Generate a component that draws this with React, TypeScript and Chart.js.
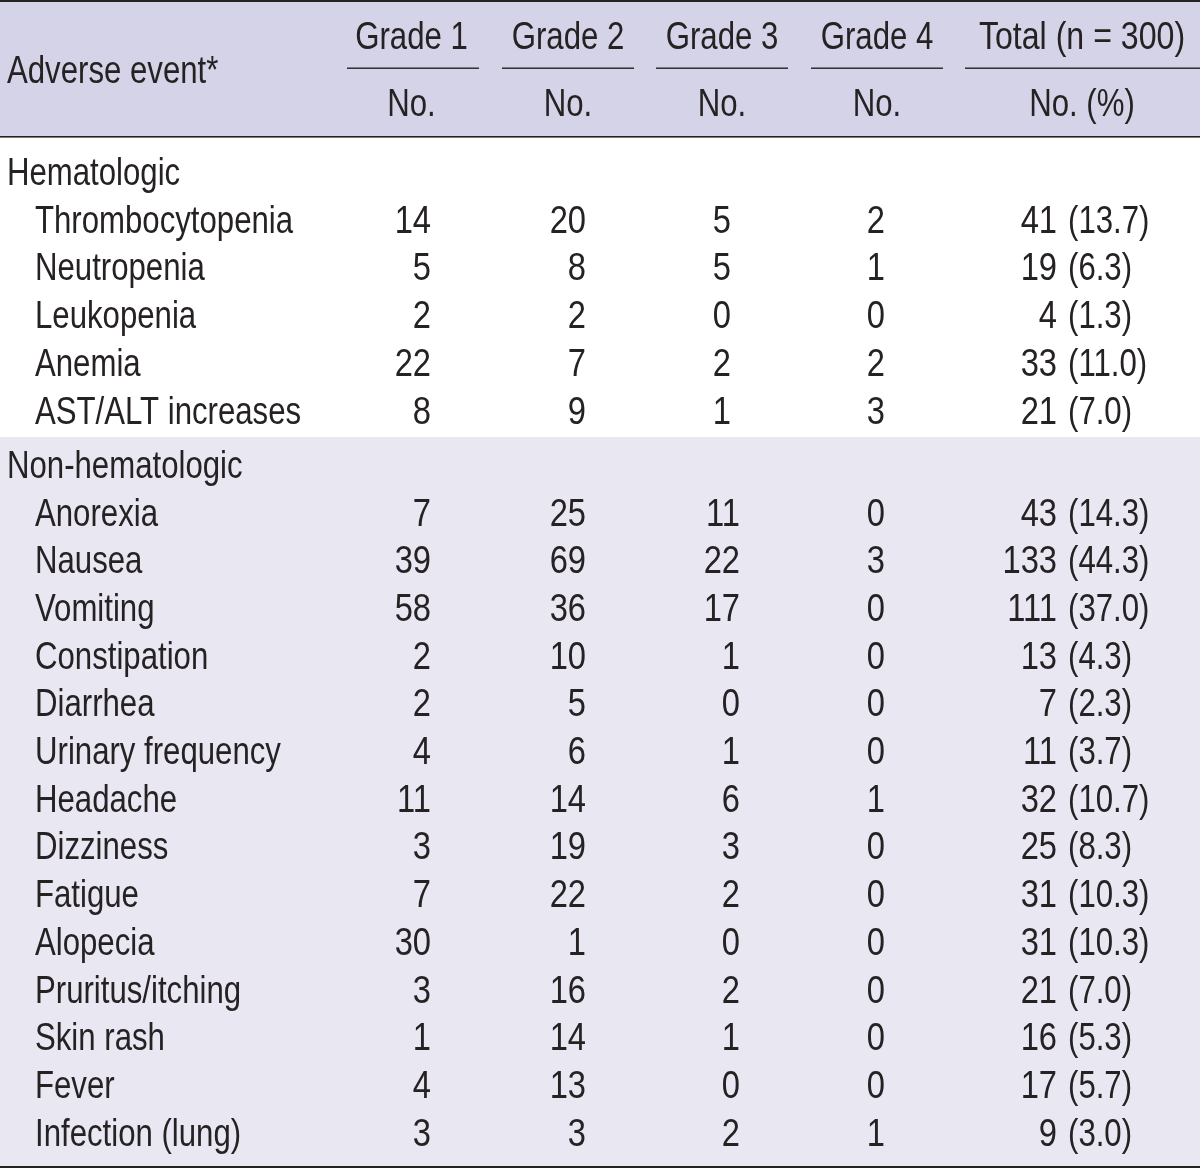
import React, { useEffect, useRef } from "react";
import { Chart, registerables } from "chart.js";

Chart.register(...registerables);

// ---------------- DATA ----------------
const stubHeader = "Adverse event*";
const columnHeaders = ["Grade 1", "Grade 2", "Grade 3", "Grade 4", "Total (n = 300)"];
const subHeaders = ["No.", "No.", "No.", "No.", "No. (%)"];
const sectionNames = ["Hematologic", "Non-hematologic"];
const hematologicEvents = ["Thrombocytopenia", "Neutropenia", "Leukopenia", "Anemia", "AST/ALT increases"];
const nonHematologicEvents = [
  "Anorexia", "Nausea", "Vomiting", "Constipation", "Diarrhea", "Urinary frequency",
  "Headache", "Dizziness", "Fatigue", "Alopecia", "Pruritus/itching", "Skin rash",
  "Fever", "Infection (lung)",
];
// values: first 5 hematologic, then 14 non-hematologic
const grade1 = [14, 5, 2, 22, 8, 7, 39, 58, 2, 2, 4, 11, 3, 7, 30, 3, 1, 4, 3];
const grade2 = [20, 8, 2, 7, 9, 25, 69, 36, 10, 5, 6, 14, 19, 22, 1, 16, 14, 13, 3];
const grade3 = [5, 5, 0, 2, 1, 11, 22, 17, 1, 0, 1, 6, 3, 2, 0, 2, 1, 0, 2];
const grade4 = [2, 1, 0, 2, 3, 0, 3, 0, 0, 0, 0, 1, 0, 0, 0, 0, 0, 0, 1];
const totalCount = [41, 19, 4, 33, 21, 43, 133, 111, 13, 7, 11, 32, 25, 31, 31, 21, 16, 17, 9];
const totalPct = ["13.7", "6.3", "1.3", "11.0", "7.0", "14.3", "44.3", "37.0", "4.3", "2.3", "3.7", "10.7", "8.3", "10.3", "10.3", "7.0", "5.3", "5.7", "3.0"];

// ---------------- LAYOUT / STYLE ----------------
const W = 1200;
const H = 1169;
const ROW_PX = 47.7;
const Y_MIN = -171.4 / ROW_PX;
const Y_MAX = Y_MIN + H / ROW_PX;
const SECTION_GAP = 0.14;
const FONT = "38px 'Liberation Sans', Arial, sans-serif";
const SX = 0.82;
const SX_NUM = 0.86;
const CAP_HALF = 13.6;
const TEXT = "#262223";
const HEADER_BG = "#d4d3e7";
const NONHEM_BG = "#e8e7f2";
const SECTION_X = 7;
const EVENT_X = 35;
const COL_RIGHT = [431, 586, 740, 885, 1057];
const HEM_COL3_RIGHT = 731;
const PCT_X = 1068;
const HEADER_CENTER = [411.5, 568, 722, 877, 1082];
const UNDERLINES = [[347, 479], [502, 634], [656, 788], [811, 943], [965, 1200]];
const HEADER_ROW1 = -2.849;
const HEADER_ROW2 = -1.444;
const HEADER_STUB = -2.136;

const nHem = hematologicEvents.length;
const rowPos = (eventIdx: number) =>
  eventIdx < nHem ? 1 + eventIdx : 2 + eventIdx + SECTION_GAP;
const sectionPos = [0, 1 + nHem + SECTION_GAP];
const allEvents = [...hematologicEvents, ...nonHematologicEvents];

function drawText(ctx: CanvasRenderingContext2D, text: string, x: number, yc: number, align: CanvasTextAlign, sx: number = SX) {
  ctx.save();
  ctx.translate(x, yc + CAP_HALF);
  ctx.scale(sx, 1);
  ctx.textAlign = align;
  ctx.textBaseline = "alphabetic";
  ctx.fillText(text, 0, 0);
  ctx.restore();
}

const tablePlugin = {
  id: "tableText",
  beforeDatasetsDraw(chart: any) {
    const ctx: CanvasRenderingContext2D = chart.ctx;
    const y = chart.scales.y;
    const x = chart.scales.x;
    ctx.save();
    ctx.fillStyle = "#ffffff";
    ctx.fillRect(0, 0, W, H);
    const headerBottom = 136;
    ctx.fillStyle = HEADER_BG;
    ctx.fillRect(0, 0, W, headerBottom);
    const split = (y.getPixelForValue(nHem) + y.getPixelForValue(sectionPos[1])) / 2;
    const bottomRule = 1166;
    ctx.fillStyle = NONHEM_BG;
    ctx.fillRect(0, split, W, bottomRule - split);
    ctx.fillStyle = TEXT;
    ctx.fillRect(0, 0, W, 2);
    ctx.fillRect(0, headerBottom, W, 1.6);
    ctx.fillRect(0, bottomRule, W, 2);
    UNDERLINES.forEach(([a, b]) => {
      const xa = x.getPixelForValue(a);
      const xb = x.getPixelForValue(b);
      ctx.fillRect(xa, 67.5, xb - xa, 1.4);
    });
    ctx.font = FONT;
    ctx.fillStyle = TEXT;
    drawText(ctx, stubHeader, x.getPixelForValue(SECTION_X), y.getPixelForValue(HEADER_STUB), "left");
    columnHeaders.forEach((h, i) => {
      drawText(ctx, h, x.getPixelForValue(HEADER_CENTER[i]), y.getPixelForValue(HEADER_ROW1), "center", i === 4 ? 0.845 : SX);
      drawText(ctx, subHeaders[i], x.getPixelForValue(HEADER_CENTER[i]), y.getPixelForValue(HEADER_ROW2), "center");
    });
    ctx.restore();
  },
  afterDatasetsDraw(chart: any) {
    const ctx: CanvasRenderingContext2D = chart.ctx;
    ctx.save();
    ctx.font = FONT;
    ctx.fillStyle = TEXT;
    chart.data.datasets.forEach((ds: any, di: number) => {
      const meta = chart.getDatasetMeta(di);
      meta.data.forEach((el: any, i: number) => {
        const raw = ds.data[i];
        drawText(ctx, raw.text, el.x, el.y, raw.align, raw.num ? SX_NUM : SX);
      });
    });
    ctx.restore();
  },
};

export default function App() {
  const ref = useRef<HTMLCanvasElement | null>(null);
  useEffect(() => {
    document.body.style.margin = "0";
    const canvas = ref.current!;
    const gradeCols = [grade1, grade2, grade3, grade4];
    const datasets: any[] = [];
    datasets.push({
      label: "sections",
      data: sectionNames.map((s, i) => ({ x: SECTION_X, y: sectionPos[i], text: s, align: "left" })),
    });
    datasets.push({
      label: "events",
      data: allEvents.map((e, i) => ({ x: EVENT_X, y: rowPos(i), text: e, align: "left" })),
    });
    gradeCols.forEach((vals, c) => {
      datasets.push({
        label: columnHeaders[c],
        data: vals.map((v, i) => ({
          x: c === 2 && i < nHem ? HEM_COL3_RIGHT : COL_RIGHT[c],
          y: rowPos(i),
          text: String(v),
          align: "right",
          num: true,
        })),
      });
    });
    datasets.push({
      label: "total",
      data: totalCount.map((v, i) => ({ x: COL_RIGHT[4], y: rowPos(i), text: String(v), align: "right", num: true })),
    });
    datasets.push({
      label: "pct",
      data: totalPct.map((v, i) => ({ x: PCT_X, y: rowPos(i), text: "(" + v + ")", align: "left" })),
    });
    datasets.forEach((d) => {
      d.pointRadius = 0;
      d.pointHoverRadius = 0;
      d.showLine = false;
    });
    const chart = new Chart(canvas, {
      type: "scatter",
      data: { datasets },
      options: {
        animation: false,
        responsive: false,
        maintainAspectRatio: false,
        devicePixelRatio: 1,
        layout: { padding: 0 },
        events: [],
        plugins: { legend: { display: false }, tooltip: { enabled: false } },
        scales: {
          x: { type: "linear", min: 0, max: W, display: false },
          y: { type: "linear", min: Y_MIN, max: Y_MAX, reverse: true, display: false },
        },
      },
      plugins: [tablePlugin],
    } as any);
    return () => chart.destroy();
  }, []);
  return (
    <div style={{ position: "absolute", left: 0, top: 0, width: W, height: H }}>
      <canvas ref={ref} width={W} height={H} style={{ display: "block", width: W, height: H }} />
    </div>
  );
}
